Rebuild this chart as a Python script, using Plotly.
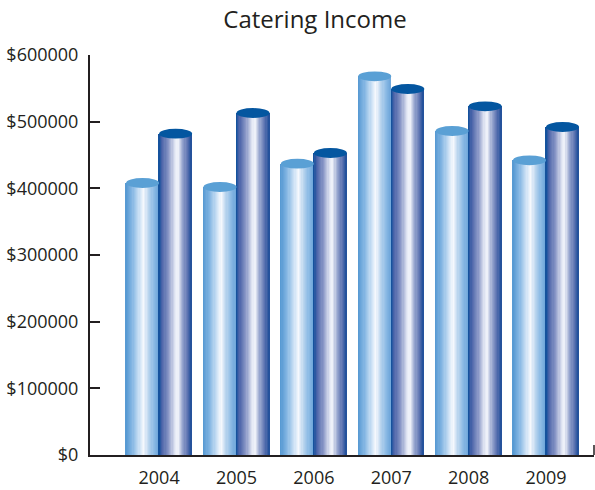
import plotly.graph_objects as go

# Catering income per year, two series drawn as shaded cylinders
years = ["2004", "2005", "2006", "2007", "2008", "2009"]
series_a = [408000, 402000, 437000, 568000, 486000, 442000]
series_b = [482000, 513000, 453000, 549000, 523000, 492000]

y_ticks = [0, 100000, 200000, 300000, 400000, 500000, 600000]
y_labels = ["&#36;%d" % v for v in y_ticks]

# Horizontal shading stops for each cylinder (position across width, colour)
shade_a = [(0.0, "#5497d2"), (0.2, "#82b5e2"), (0.45, "#d6e7f7"), (0.55, "#f6f9fd"),
           (0.7, "#b9d4ee"), (0.85, "#8dbbe5"), (1.0, "#6ea6da")]
shade_b = [(0.0, "#0a4e9b"), (0.1, "#4a63a8"), (0.3, "#8896c6"), (0.5, "#e4e8f4"),
           (0.58, "#f3f5fb"), (0.72, "#9aa8d0"), (0.88, "#5a71b0"), (1.0, "#1c4d99")]
top_a = "#5aa0d5"
top_b = "#0456a0"

CYL_W = 0.427      # cylinder width in category units
SLICES = 28
CAP_H = 7400       # half height of the elliptical cap, in value units


def hex_rgb(h):
    h = h.lstrip("#")
    return tuple(int(h[i:i + 2], 16) for i in (0, 2, 4))


def shade_at(stops, t):
    for (p0, c0), (p1, c1) in zip(stops[:-1], stops[1:]):
        if p0 <= t <= p1:
            f = (t - p0) / (p1 - p0) if p1 > p0 else 0
            a, b = hex_rgb(c0), hex_rgb(c1)
            return "rgb(%d,%d,%d)" % tuple(round(a[i] + (b[i] - a[i]) * f) for i in range(3))
    return stops[-1][1]


def cylinder_trace(values, centre_offset, stops):
    xs, ys, cols, ws = [], [], [], []
    sw = CYL_W / SLICES
    for i, v in enumerate(values):
        left = i + centre_offset - CYL_W / 2
        for k in range(SLICES):
            t = (k + 0.5) / SLICES
            xs.append(left + sw * (k + 0.5))
            ys.append(v)
            cols.append(shade_at(stops, t))
            ws.append(sw * 1.25)
    return go.Bar(x=xs, y=ys, width=ws, marker=dict(color=cols, line=dict(width=0)),
                  hoverinfo="skip", showlegend=False)


fig = go.Figure()
fig.add_trace(cylinder_trace(series_a, -CYL_W / 2, shade_a))
fig.add_trace(cylinder_trace(series_b, CYL_W / 2, shade_b))

shapes = []
for i in range(len(years)):
    for v, off, col in ((series_a[i], -CYL_W / 2, top_a), (series_b[i], CYL_W / 2, top_b)):
        shapes.append(dict(type="circle", xref="x", yref="y", layer="above",
                           x0=i + off - CYL_W / 2, x1=i + off + CYL_W / 2,
                           y0=v - CAP_H, y1=v + CAP_H,
                           fillcolor=col, line=dict(width=0)))
# short upright tick closing the right end of the category axis
shapes.append(dict(type="line", xref="paper", yref="paper", x0=1, x1=1, y0=0, y1=0.025,
                   line=dict(color="#231f20", width=1.5)))

ink = "#231f20"
fig.update_layout(
    width=595, height=490,
    margin=dict(l=90, r=1, t=55, b=33),
    paper_bgcolor="white", plot_bgcolor="white",
    barmode="overlay", bargap=0,
    font=dict(family="Open Sans", color=ink, size=18),
    title=dict(text="Catering Income", x=315 / 595, xanchor="center",
               y=1 - 20 / 490, yanchor="middle",
               font=dict(family="Open Sans", size=24, color=ink)),
    shapes=shapes,
    xaxis=dict(range=[-0.893, 5.62], tickvals=list(range(len(years))), ticktext=years,
               showgrid=False, zeroline=False, showline=True, linecolor=ink, linewidth=1.5,
               ticks="", tickfont=dict(size=18), ticklabelstandoff=6, fixedrange=True),
    yaxis=dict(range=[0, 600000], tickvals=y_ticks, ticktext=y_labels,
               showgrid=False, zeroline=False, showline=True, linecolor=ink, linewidth=2,
               ticks="inside", ticklen=10, tickwidth=2, tickcolor=ink,
               tickfont=dict(size=18), ticklabelstandoff=6, fixedrange=True),
)

fig.write_html("out.html")
